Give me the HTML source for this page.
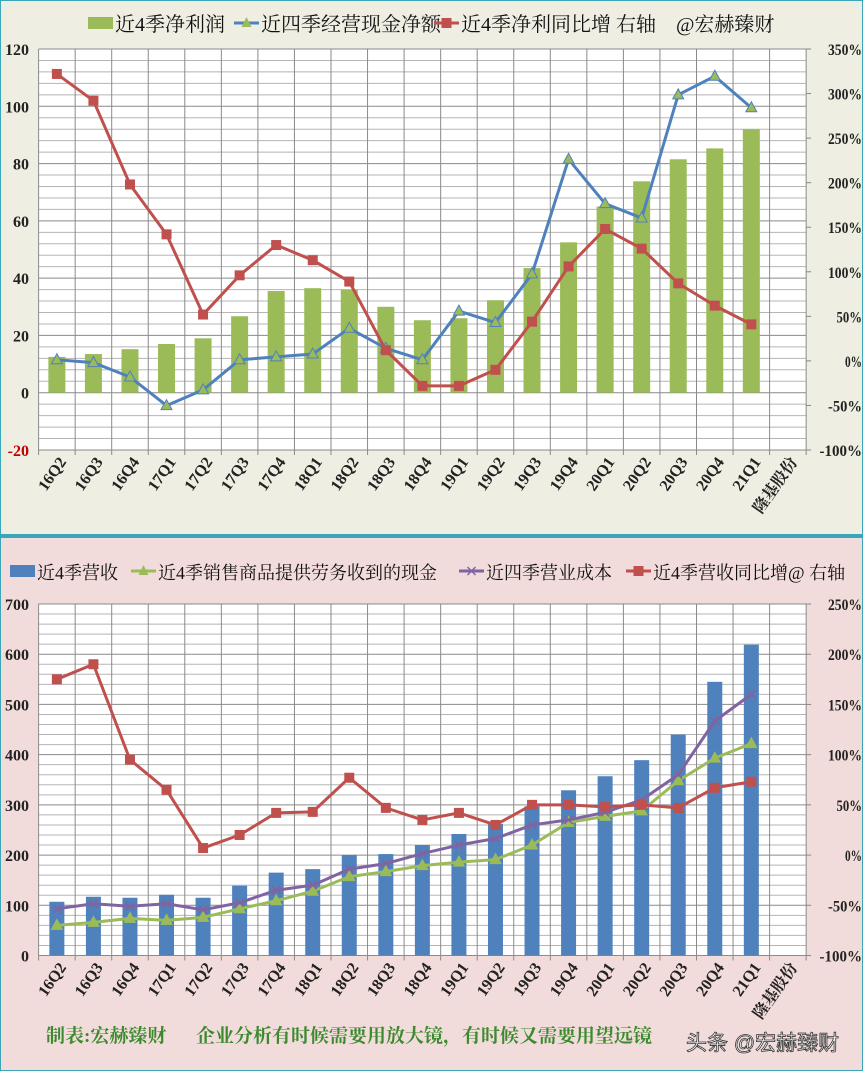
<!DOCTYPE html>
<html><head><meta charset="utf-8">
<style>
html,body{margin:0;padding:0;background:#fff;}
svg{display:block;font-family:"Liberation Serif","Noto Serif CJK SC",serif;}
</style></head>
<body>
<svg id="c" width="863" height="1071" viewBox="0 0 863 1071" xmlns="http://www.w3.org/2000/svg">
<rect x="0" y="0" width="863" height="535" fill="#eeeee2" stroke="#3aa6b9" stroke-width="2"/>
<rect x="0" y="537" width="863" height="534" fill="#f2dcdb" stroke="#3aa6b9" stroke-width="2"/>
<g id="top"></g>
<g id="bot"></g>
<text x="46" y="1042" font-size="19" font-weight="bold" fill="#3c8a2e">制表:宏赫臻财</text>
<text x="196" y="1042" font-size="19" font-weight="bold" fill="#3c8a2e">企业分析有时候需要用放大镜，有时候又需要用望远镜</text>
<text x="686" y="1050" font-size="21" fill="#fff" stroke="#333" stroke-width="0.8" font-family="Liberation Sans, Noto Sans CJK SC, sans-serif">头条 @宏赫臻财</text>
</svg>
<script>
const cats=["16Q2","16Q3","16Q4","17Q1","17Q2","17Q3","17Q4","18Q1","18Q2","18Q3","18Q4","19Q1","19Q2","19Q3","19Q4","20Q1","20Q2","20Q3","20Q4","21Q1","隆基股份"];
// top chart
const profit=[12.5,13.5,15.2,17,19,26.7,35.5,36.5,36,30,25.3,26,32.3,43.5,52.5,65,73.8,81.5,85.3,92];
const opCash=[11.5,10.5,5.5,-4.5,1,11.5,12.5,13.5,22.5,15.5,11.5,28.5,24.5,41.5,81.5,66,61,104,110.5,99.5];
const profitYoY=[322,292,198,142,52,96,130,113,89,12,-28,-28,-10,44,106,148,126,87,62,41];
const topLeftTicks=[-20,0,20,40,60,80,100,120];
const topRightTicks=[-100,-50,0,50,100,150,200,250,300,350];
// bottom chart
const revenue=[107,117,115,121,115,139,165,172,200,202,220,242,262,297,329,357,389,440,545,619];
const salesCash=[60,66,74,70,76,93,109,128,157,167,179,186,191,220,265,277,288,348,393,422];
const opCost=[93,103,98,103,91,105,130,140,172,183,203,220,233,260,270,285,310,360,467,520];
const revYoY=[175,190,95,65,7,20,42,43,77,47,35,42,30,50,50,48,50,47,67,73];
const botLeftTicks=[0,100,200,300,400,500,600,700];
const botRightTicks=[-100,-50,0,50,100,150,200,250];

const NS="http://www.w3.org/2000/svg";
function mk(p,t,a,txt){const e=document.createElementNS(NS,t);for(const k in a)e.setAttribute(k,a[k]);if(txt!==undefined)e.textContent=txt;p.appendChild(e);return e;}

function chart(g,o){
  const X0=38.6,W=36.55,x0=X0,x1=X0+W*21;
  const xc=i=>X0+W*(i+0.5);
  const yL=v=>o.top+(o.lmax-v)/(o.lmax-o.lmin)*(o.bot-o.top);
  const yR=v=>o.top+(o.rmax-v)/(o.rmax-o.rmin)*(o.bot-o.top);
  const pa=mk(g,'rect',{x:x0,y:o.top,width:x1-x0,height:o.bot-o.top,fill:'#fff'});
  
  
  for(let v=o.lmin;v<=o.lmax+1e-9;v+=o.minor){
    const l=mk(g,'line',{x1:x0,x2:x1,y1:yL(v),y2:yL(v),stroke:(Math.abs(v%o.major)<1e-9)?'#8a8a8a':'#b5b5b5','stroke-width':1});
    
    
  }
  for(let i=0;i<=21;i++){
    const l=mk(g,'line',{x1:X0+W*i,x2:X0+W*i,y1:o.top,y2:o.bot+5,stroke:'#8a8a8a','stroke-width':1});
    
    
  }
  o.lt.forEach(v=>{const t=mk(g,'text',{x:29,y:yL(v)+6,'text-anchor':'end','font-size':16,'font-weight':'bold',fill:v<0?'#c00000':'#222'},String(v));
    
    });
  o.rt.forEach(v=>{const t=mk(g,'text',{x:862,y:yR(v)+6,'text-anchor':'end','font-size':16,'font-weight':'bold',fill:'#222',textLength:(String(v).length+1)*8.5,lengthAdjust:'spacingAndGlyphs'},v+'%');
    
    
    mk(g,'line',{x1:x1,x2:x1+5,y1:yR(v),y2:yR(v),stroke:'#888'});});
  cats.forEach((c,i)=>{const t=mk(g,'text',{transform:`translate(${xc(i)+10},${o.bot+12}) rotate(-55)`,'text-anchor':'end','font-size':c.length>4?17:16,'font-weight':c.length>4?'normal':'bold',fill:'#222'},c);
    
    });
  o.bars.forEach((v,i)=>{const y=yL(v),y0=yL(0);const b=mk(g,'rect',{x:xc(i)-o.bw/2,y:Math.min(y,y0),width:o.bw,height:Math.abs(y0-y),fill:o.barColor});
    
    });
  o.lines.forEach(L=>{
    const f=L.right?yR:yL;
    const p=mk(g,'polyline',{points:L.d.map((v,i)=>xc(i)+','+f(v)).join(' '),fill:'none',stroke:L.color,'stroke-width':3,'stroke-linejoin':'round'});
    
    
    L.d.forEach((v,i)=>{let m;const x=xc(i),y=f(v);
      if(L.mk==='sq')m=mk(g,'rect',{x:x-5,y:y-5,width:10,height:10,fill:L.mc});
      else if(L.mk==='tri')m=mk(g,'polygon',{points:`${x},${y-6} ${x-5.5},${y+4} ${x+5.5},${y+4}`,fill:L.mc,stroke:L.color,'stroke-width':1});
      else m=mk(g,'path',{d:`M${x-4},${y-4}L${x+4},${y+4}M${x+4},${y-4}L${x-4},${y+4}`,stroke:L.mc,'stroke-width':1.5});
      
      });
  });
}
chart(document.getElementById('top'),{top:49,bot:450,lmin:-20,lmax:120,rmin:-100,rmax:350,minor:4,major:20,lt:topLeftTicks,rt:topRightTicks,bars:profit,bw:17,barColor:'#9bbb59',
  lines:[{d:opCash,color:'#4f81bd',mc:'#9bbb59',mk:'tri',name:'op-cash'},{d:profitYoY,color:'#c0504d',mc:'#c0504d',mk:'sq',right:true,name:'profit-yoy'}]});
chart(document.getElementById('bot'),{top:604,bot:955.5,lmin:0,lmax:700,rmin:-100,rmax:250,minor:20,major:100,lt:botLeftTicks,rt:botRightTicks,bars:revenue,bw:15,barColor:'#4f81bd',
  lines:[{d:salesCash,color:'#9bbb59',mc:'#9bbb59',mk:'tri',name:'sales-cash'},{d:opCost,color:'#8064a2',mc:'#8064a2',mk:'x',name:'op-cost'},{d:revYoY,color:'#c0504d',mc:'#c0504d',mk:'sq',right:true,name:'revenue-yoy'}]});

// legends
function legend(y,items,fs){
  const g=document.getElementById('c');
  items.forEach(it=>{
    const lg=mk(g,'g',{});
    
    
    if(it.t==='bar')mk(lg,'rect',{x:it.x,y:y-8,width:25,height:12,fill:it.c});
    else{mk(lg,'line',{x1:it.x,x2:it.x+25,y1:y-2,y2:y-2,stroke:it.c,'stroke-width':3});
      const cx=it.x+12.5,cy=y-2;
      if(it.t==='sq')mk(lg,'rect',{x:cx-5,y:cy-5,width:10,height:10,fill:it.c});
      else if(it.t==='tri')mk(lg,'polygon',{points:`${cx},${cy-6} ${cx-5},${cy+4} ${cx+5},${cy+4}`,fill:it.mc||it.c});
      else mk(lg,'path',{d:`M${cx-4},${cy-4}L${cx+4},${cy+4}M${cx+4},${cy-4}L${cx-4},${cy+4}`,stroke:it.c,'stroke-width':1.5});}
    mk(lg,'text',{x:it.x+27,y:y+6,'font-size':it.fs||fs,fill:'#111'},it.s);
  });
}
legend(25,[{x:88,t:'bar',c:'#9bbb59',s:'近4季净利润'},{x:234,t:'tri',c:'#4f81bd',mc:'#9bbb59',s:'近四季经营现金净额'},{x:434,t:'sq',c:'#c0504d',s:'近4季净利同比增 右轴　@宏赫臻财'}],20);
legend(573,[{x:10,t:'bar',c:'#4f81bd',s:'近4季营收'},{x:131,t:'tri',c:'#9bbb59',s:'近4季销售商品提供劳务收到的现金'},{x:459,t:'x',c:'#8064a2',s:'近四季营业成本'},{x:626,t:'sq',c:'#c0504d',s:'近4季营收同比增@ 右轴'}],18);
</script>
</body></html>
